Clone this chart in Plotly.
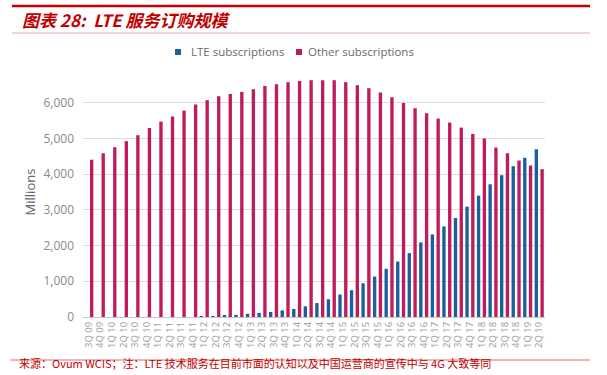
import plotly.graph_objects as go

quarters = ["3Q 09", "4Q 09",
            "1Q 10", "2Q 10", "3Q 10", "4Q 10",
            "1Q 11", "2Q 11", "3Q 11", "4Q 11",
            "1Q 12", "2Q 12", "3Q 12", "4Q 12",
            "1Q 13", "2Q 13", "3Q 13", "4Q 13",
            "1Q 14", "2Q 14", "3Q 14", "4Q 14",
            "1Q 15", "2Q 15", "3Q 15", "4Q 15",
            "1Q 16", "2Q 16", "3Q 16", "4Q 16",
            "1Q 17", "2Q 17", "3Q 17", "4Q 17",
            "1Q 18", "2Q 18", "3Q 18", "4Q 18",
            "1Q 19", "2Q 19"]

lte_subs = [0, 0,
            0, 0, 0, 0,
            0, 0, 0, 0,
            5, 20, 45, 60,
            90, 115, 140, 185,
            225, 300, 390, 497,
            629, 750, 944, 1132,
            1348, 1553, 1789, 2087,
            2312, 2537, 2772, 3090,
            3399, 3716, 3969, 4222,
            4458, 4700]

other_subs = [4400, 4585,
              4754, 4922, 5090, 5294,
              5471, 5611, 5779, 5947,
              6070, 6182, 6246, 6303,
              6378, 6471, 6518, 6574,
              6611, 6630, 6630, 6630,
              6574, 6490, 6406, 6283,
              6154, 5994, 5846, 5706,
              5555, 5443, 5303, 5126,
              4997, 4745, 4588, 4381,
              4241, 4140]

y_ticks = [0, 1000, 2000, 3000, 4000, 5000, 6000]
y_tick_labels = ["0", "1,000", "2,000", "3,000", "4,000", "5,000", "6,000"]

series_names = ["LTE subscriptions", "Other subscriptions"]
title_text = "<b><i>图表 28:  LTE 服务订购规模</i></b>"
source_text = "来源：Ovum WCIS；注：LTE 技术服务在目前市面的认知以及中国运营商的宣传中与 4G 大致等同"

LTE_COLOR = "#1b5f9c"
OTHER_COLOR = "#c01b5c"
RED = "#c00000"

# layout geometry (pixels)
W, H = 607, 375
ML, MR, MT, MB = 83, 62, 67, 58
PW, PH = W - ML - MR, H - MT - MB


def px_x(p):
    return (p - ML) / PW


def px_y(p):
    return (H - MB - p) / PH


fig = go.Figure()
fig.add_trace(go.Bar(x=quarters, y=lte_subs, name=series_names[0],
                     marker=dict(color=LTE_COLOR, line=dict(width=0))))
fig.add_trace(go.Bar(x=quarters, y=other_subs, name=series_names[1],
                     marker=dict(color=OTHER_COLOR, line=dict(width=0))))

fig.update_layout(
    width=W, height=H,
    margin=dict(l=ML, r=MR, t=MT, b=MB, autoexpand=False),
    paper_bgcolor="white", plot_bgcolor="white",
    barmode="group", bargap=0.0, bargroupgap=0.42,
    font=dict(family="Open Sans, Noto Sans, sans-serif", color="#777"),
    showlegend=False,
    xaxis=dict(type="category", tickangle=-90, tickmode="linear", tick0=0, dtick=1,
               tickfont=dict(size=9.5, color="#9a9a9a"),
               showgrid=False, showline=True, linecolor="#c8c8c8", linewidth=1,
               ticks="", automargin=False, range=[-0.5, len(quarters) - 0.5]),
    yaxis=dict(range=[0, 7000], tickvals=y_ticks, ticktext=y_tick_labels,
               tickfont=dict(size=12, color="#8a8a8a"), showgrid=True,
               gridcolor="#dedede", gridwidth=1, zeroline=False, showline=False,
               ticks="", ticklabelstandoff=8, automargin=False,
               title=dict(text="Millions", font=dict(size=13, color="#666"), standoff=4)),
)

# custom legend (small squares + labels)
legend_items = [(series_names[0], LTE_COLOR, 175, 189), (series_names[1], OTHER_COLOR, 296, 306)]
for name, color, sx, tx in legend_items:
    fig.add_shape(type="rect", xref="paper", yref="paper",
                  x0=px_x(sx), x1=px_x(sx + 6), y0=px_y(55), y1=px_y(49),
                  fillcolor=color, line=dict(width=0))
    fig.add_annotation(text=name, xref="paper", yref="paper", x=px_x(tx), y=px_y(51.5),
                       xanchor="left", yanchor="middle", showarrow=False,
                       font=dict(size=11.5, color="#6a6a6a"))

# header / footer decorations
fig.add_shape(type="line", xref="paper", yref="paper", x0=px_x(12), x1=px_x(590),
              y0=px_y(6), y1=px_y(6), line=dict(color=RED, width=2.5))
fig.add_shape(type="line", xref="paper", yref="paper", x0=px_x(12), x1=px_x(590),
              y0=px_y(33), y1=px_y(33), line=dict(color="#f2a8a8", width=1.2))
fig.add_shape(type="line", xref="paper", yref="paper", x0=px_x(10), x1=px_x(590),
              y0=px_y(360), y1=px_y(360), line=dict(color="#e26a6a", width=1))

fig.add_annotation(text=title_text, xref="paper", yref="paper", x=px_x(20), y=px_y(19),
                   xanchor="left", yanchor="middle", showarrow=False,
                   font=dict(size=17, color=RED, family="Noto Sans CJK SC, sans-serif"))
fig.add_annotation(text=source_text, xref="paper", yref="paper", x=px_x(17), y=px_y(373),
                   xanchor="left", yanchor="bottom", showarrow=False,
                   font=dict(size=11, color=RED, family="Noto Sans CJK SC, sans-serif"))

fig.write_html("out.html", config={"displayModeBar": False},
               post_script="document.body.style.margin='0';document.body.style.overflow='hidden';")
